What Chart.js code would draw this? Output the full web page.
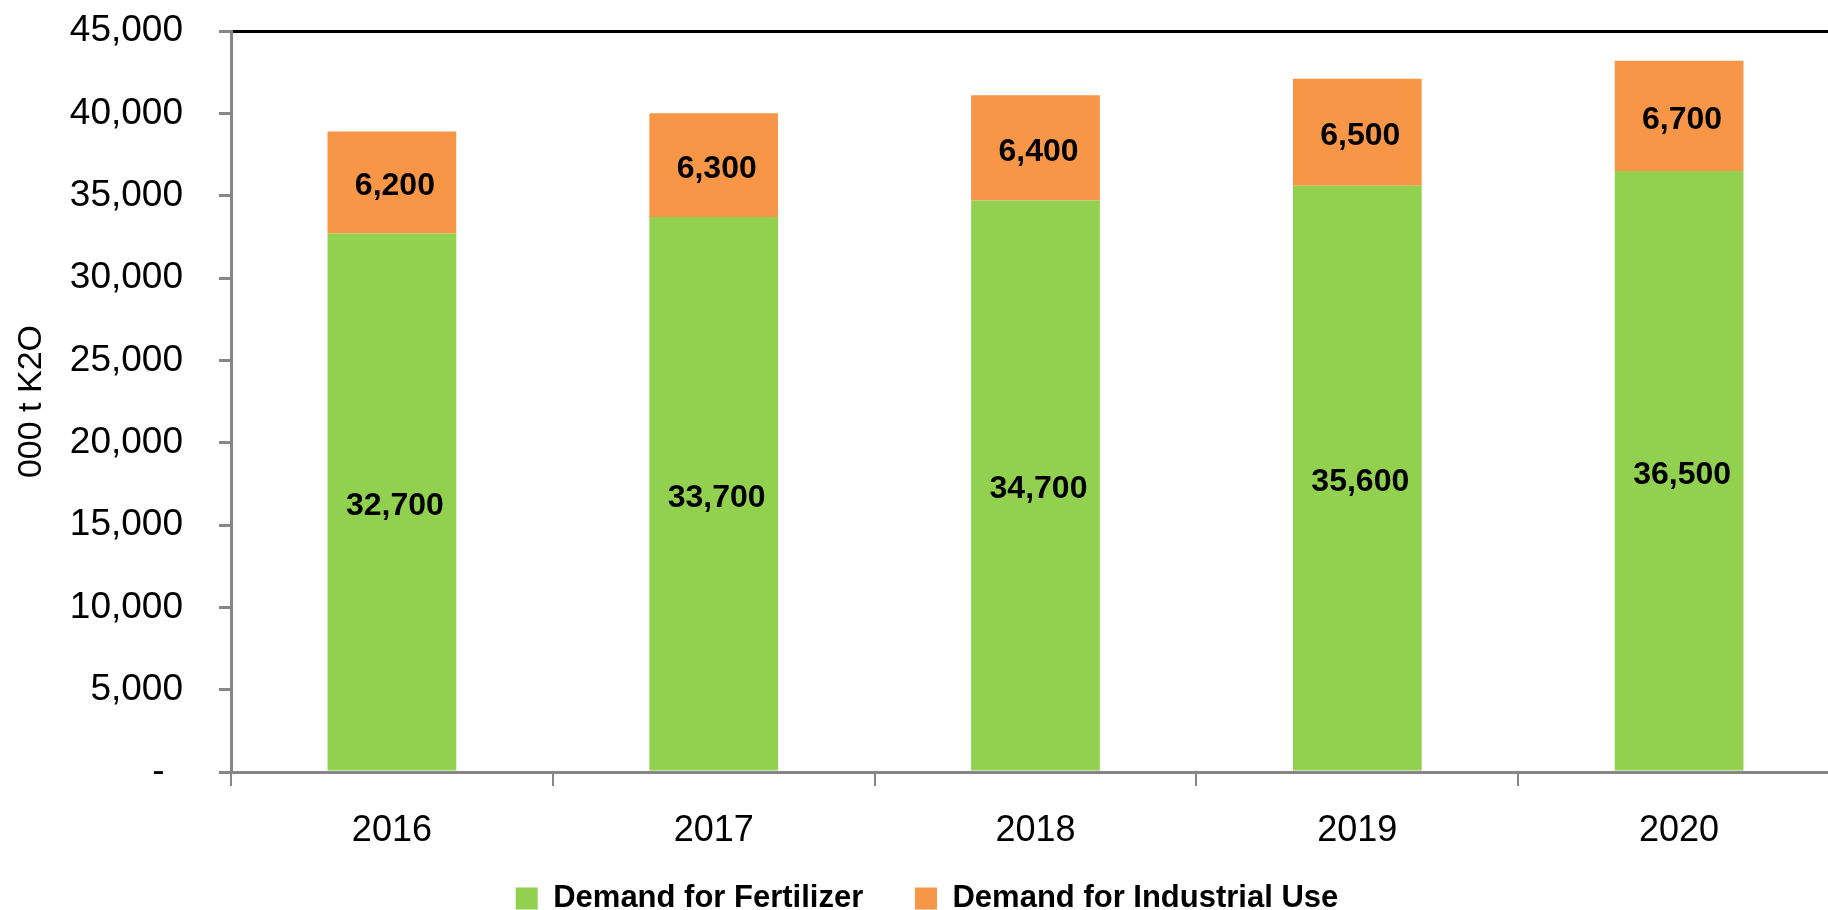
<!DOCTYPE html>
<html>
<head>
<meta charset="utf-8">
<script src="https://cdn.jsdelivr.net/npm/chart.js@4.4.1/dist/chart.umd.min.js"></script>
<style>
  html, body { margin: 0; padding: 0; background: #ffffff; overflow: hidden; width: 1828px; height: 910px; }
  #wrap { position: absolute; left: 0; top: 0; width: 1854px; height: 924px; }
</style>
</head>
<body>
<div id="wrap"><canvas id="c" width="1854" height="924"></canvas></div>
<script>
const categories = ['2016', '2017', '2018', '2019', '2020'];
const fertilizerDemand = [32700, 33700, 34700, 35600, 36500];
const industrialDemand = [6200, 6300, 6400, 6500, 6700];
const seriesNames = ['Demand for Fertilizer', 'Demand for Industrial Use'];
const yTickMin = 0, yTickMax = 45000, yTickStep = 5000;
const yAxisTitle = '000 t K2O';

const FONT = "'Liberation Sans', Arial, sans-serif";
const AXIS_GRAY = '#868686';

const barLabels = {
  id: 'barLabels',
  afterDatasetsDraw(chart) {
    const ctx = chart.ctx;
    ctx.save();
    ctx.font = 'bold 32px ' + FONT;
    ctx.fillStyle = '#000000';
    ctx.textAlign = 'center';
    ctx.textBaseline = 'middle';
    chart.data.datasets.forEach((ds, di) => {
      const meta = chart.getDatasetMeta(di);
      meta.data.forEach((el, i) => {
        const v = ds.data[i];
        const cy = (el.y + el.base) / 2;
        ctx.fillText(v.toLocaleString('en-US'), el.x + 3, cy + 4);
      });
    });
    ctx.restore();
  }
};

const legendShift = {
  id: 'legendShift',
  afterLayout(chart) {
    if (chart.legend) { chart.legend.left += 7; chart.legend.right += 7; }
  }
};

new Chart(document.getElementById('c'), {
  type: 'bar',
  data: {
    labels: categories,
    datasets: [
      { label: seriesNames[0], data: fertilizerDemand, backgroundColor: '#92D050', borderWidth: 0 },
      { label: seriesNames[1], data: industrialDemand, backgroundColor: '#F79646', borderWidth: 0 }
    ]
  },
  options: {
    responsive: false,
    devicePixelRatio: 1,
    animation: false,
    layout: { padding: { top: 31, right: 14, left: 0, bottom: 0 } },
    datasets: { bar: { barPercentage: 0.4, categoryPercentage: 1.0 } },
    plugins: {
      tooltip: { enabled: false },
      legend: {
        position: 'bottom',
        labels: {
          font: { family: FONT, size: 31, weight: 'bold' },
          color: '#000000',
          boxWidth: 22,
          boxHeight: 22,
          padding: 30,
          generateLabels(chart) {
            const items = Chart.defaults.plugins.legend.labels.generateLabels(chart);
            items.forEach((it, i) => { if (i < items.length - 1) it.text = it.text + '\u2002\u2009'; });
            return items;
          }
        }
      }
    },
    scales: {
      x: {
        stacked: true,
        afterFit(scale) { scale.height = 81; },
        grid: { display: true, drawOnChartArea: false, drawTicks: true, tickLength: 14, tickColor: AXIS_GRAY, lineWidth: 2, offset: true },
        border: { display: true, color: AXIS_GRAY, width: 3 },
        ticks: { font: { family: FONT, size: 36 }, color: '#000000', padding: 23, maxRotation: 0 }
      },
      y: {
        stacked: true,
        min: yTickMin,
        max: yTickMax,
        afterFit(scale) { scale.width = 231; scale.paddingTop = 22; scale.paddingBottom = 0; },
        grid: {
          display: true,
          drawOnChartArea: true,
          drawTicks: true,
          tickLength: 12,
          tickColor: AXIS_GRAY,
          lineWidth: 3,
          color: (c) => (c.tick && c.tick.value === yTickMax ? '#000000' : 'rgba(0,0,0,0)')
        },
        border: { display: true, color: AXIS_GRAY, width: 3 },
        ticks: {
          stepSize: yTickStep,
          font: { family: FONT, size: 37 },
          color: '#000000',
          padding: 36,
          callback: (v) => (v === 0 ? '-\u2002' : Number(v).toLocaleString('en-US'))
        },
        title: {
          display: true,
          text: yAxisTitle,
          font: { family: FONT, size: 34 },
          color: '#000000',
          padding: { top: 11, bottom: 0 }
        }
      }
    }
  },
  plugins: [barLabels, legendShift]
});
</script>
</body>
</html>
